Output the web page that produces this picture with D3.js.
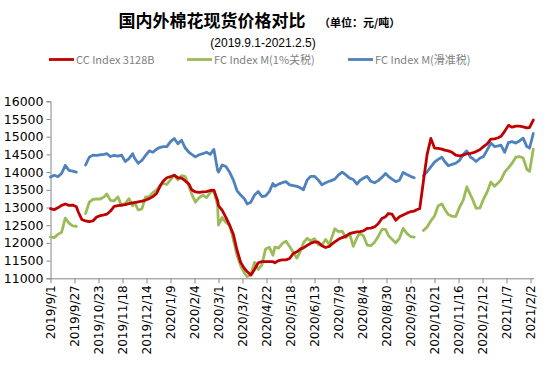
<!DOCTYPE html>
<html><head><meta charset="utf-8">
<script src="https://cdn.jsdelivr.net/npm/d3@7"></script>
<style>
body{margin:0;background:#fff;}
svg{display:block;}
</style></head>
<body><svg id="c" width="554" height="365"></svg>
<script>
// ---- data ----
const dates = [
"2019/9/1","2019/9/5","2019/9/9","2019/9/13","2019/9/17","2019/9/21","2019/9/25","2019/9/29",
"2019/10/1","2019/10/5","2019/10/9","2019/10/13","2019/10/17","2019/10/21","2019/10/25","2019/10/29",
"2019/11/1","2019/11/5","2019/11/9","2019/11/13","2019/11/17","2019/11/21","2019/11/25","2019/11/29",
"2019/12/1","2019/12/5","2019/12/9","2019/12/13","2019/12/17","2019/12/21","2019/12/25","2019/12/29",
"2020/1/1","2020/1/5","2020/1/9","2020/1/13","2020/1/17","2020/1/21","2020/1/25","2020/1/29",
"2020/2/1","2020/2/5","2020/2/9","2020/2/13","2020/2/17","2020/2/21","2020/2/25","2020/2/29",
"2020/3/1","2020/3/5","2020/3/9","2020/3/13","2020/3/17","2020/3/21","2020/3/25","2020/3/29",
"2020/4/1","2020/4/5","2020/4/9","2020/4/13","2020/4/17","2020/4/21","2020/4/25","2020/4/29",
"2020/5/1","2020/5/5","2020/5/9","2020/5/13","2020/5/17","2020/5/21","2020/5/25","2020/5/29",
"2020/6/1","2020/6/5","2020/6/9","2020/6/13","2020/6/17","2020/6/21","2020/6/25","2020/6/29",
"2020/7/1","2020/7/5","2020/7/9","2020/7/13","2020/7/17","2020/7/21","2020/7/25","2020/7/29",
"2020/8/1","2020/8/5","2020/8/9","2020/8/13","2020/8/17","2020/8/21","2020/8/25","2020/8/29",
"2020/9/1","2020/9/5","2020/9/9","2020/9/13","2020/9/17","2020/9/21","2020/9/25","2020/9/29",
"2020/10/1","2020/10/5","2020/10/9","2020/10/13","2020/10/17","2020/10/21","2020/10/25","2020/10/29",
"2020/11/1","2020/11/5","2020/11/9","2020/11/13","2020/11/17","2020/11/21","2020/11/25","2020/11/29",
"2020/12/1","2020/12/5","2020/12/9","2020/12/13","2020/12/17","2020/12/21","2020/12/25","2020/12/29",
"2021/1/1","2021/1/5","2021/1/9","2021/1/13","2021/1/17","2021/1/21","2021/1/25","2021/1/29",
"2021/2/1","2021/2/5"
];

const ccIndex = [
12970,12940,12990,13060,13100,13060,13070,13020,
12880,12660,12620,12600,12620,12730,12770,12790,
12810,12900,13030,13050,13070,13080,13110,13130,
13140,13160,13180,13210,13250,13310,13400,13620,
13740,13840,13870,13910,13840,13830,13750,13660,
13500,13440,13430,13440,13450,13480,13490,13200,
13050,12920,12720,12500,12250,11800,11450,11280,
11190,11090,11250,11440,11470,11470,11470,11470,
11440,11500,11520,11520,11560,11700,11750,11830,
11860,11930,11990,12030,12020,11920,11870,11900,
11950,12030,12100,12150,12190,12260,12290,12310,
12320,12340,12410,12420,12450,12540,12690,12740,
12830,12810,12640,12740,12790,12840,12880,12900,
12930,12970,13750,14500,14950,14680,14670,14650,
14620,14600,14560,14480,14460,14480,14520,14530,
14540,14580,14630,14720,14800,14930,14940,14970,
15010,15150,15320,15270,15300,15300,15280,15250,
15260,15470
];

const fcTariff1 = [
12170,12150,12240,12300,12700,12560,12480,12470,
null,null,12830,13150,13230,13240,13240,13300,
13380,13200,13190,13300,13050,13120,13250,13050,
13150,12930,12960,13300,13310,13420,13500,13630,
13680,13650,13780,13920,13780,13900,13870,13600,
13380,13150,13280,13350,13280,13420,13480,13050,
12500,12720,12580,12500,12100,11650,11350,11150,
11050,11100,11450,11250,11380,11830,11880,11650,
11880,11850,11980,12050,11900,11730,11570,11780,
12000,12130,12060,12120,11950,11930,12100,11950,
12100,12400,12320,12330,12150,12260,11900,12150,
12270,12200,11940,11920,12020,12180,12380,12380,
12210,12100,12000,12130,12410,12270,12180,12160,
null,null,12350,12450,12620,12760,13050,13100,
12950,12800,12750,12750,13000,13200,13580,13350,
13250,12980,12980,13230,13440,13720,13600,13700,
13780,14000,14120,14250,14420,14440,14400,14080,
14020,14650
];

const fcSliding = [
13860,13910,13870,13960,14190,14050,14030,14000,
null,null,14200,14420,14480,14470,14490,14500,
14520,14440,14470,14450,14480,14300,14380,14520,
14400,14250,14330,14470,14600,14560,14650,14700,
14720,14720,14860,14950,14800,14900,14680,14560,
14500,14430,14490,14520,14560,14500,14640,14050,
14000,14200,14160,14000,13780,13480,13350,13250,
13100,13150,13350,13450,13310,13330,13450,13680,
13600,13660,13700,13730,13640,13620,13600,13550,
13500,13780,13880,13880,13780,13640,13700,13740,
13760,13800,13920,14000,13920,13830,13790,13660,
13760,13830,13880,13740,13700,13760,13850,13960,
13880,13800,13730,13770,13990,13930,13880,13840,
null,null,13900,14010,14150,14280,14360,14420,
14300,14180,14220,14250,14330,14500,14600,14420,
14390,14300,14390,14440,14620,14820,14720,14740,
14760,14560,14830,14860,14820,14880,14960,14720,
14680,15090
];

const seriesNames = ["CC Index 3128B","FC Index M(1%关税)","FC Index M(滑准税)"];
const seriesColors = ["#C00000","#9BBB59","#4F81BD"];
const yTicks = [11000,11500,12000,12500,13000,13500,14000,14500,15000,15500,16000];
const xTickLabels = ["2019/9/1","2019/9/27","2019/10/23","2019/11/18","2019/12/14","2020/1/9","2020/2/4","2020/3/1","2020/3/27","2020/4/22","2020/5/18","2020/6/13","2020/7/9","2020/8/4","2020/8/30","2020/9/25","2020/10/21","2020/11/16","2020/12/12","2021/1/7","2021/2/2"];
const xStart = "2019/9/1", xEnd = "2021/2/5";

// ---- drawing ----
const parse = d3.timeParse("%Y/%m/%d");
const svg = d3.select("#c");
const L = 50.5, R = 533.3, T = 101.3, B = 278.3;
const x = d3.scaleTime().domain([parse(xStart), parse(xEnd)]).range([L, R]);
const y = d3.scaleLinear().domain([11000, 16000]).range([B, T]);
const axisColor = "#868686";
const labelFont = "'DejaVu Sans', Verdana, sans-serif";

// y axis
const yAxis = svg.append("g").attr("transform", `translate(${L},0)`)
  .call(d3.axisLeft(y).tickValues(yTicks).tickSize(4).tickPadding(3).tickFormat(d3.format("d")));
yAxis.select(".domain").attr("stroke", axisColor);
yAxis.selectAll(".tick line").attr("stroke", axisColor);
yAxis.selectAll("text").style("font-family", labelFont).style("font-size", "12.5px").attr("fill", "#000");

// x axis
const xAxis = svg.append("g").attr("transform", `translate(0,${B})`)
  .call(d3.axisBottom(x).tickValues(xTickLabels.map(parse)).tickSize(5)
    .tickFormat(d3.timeFormat("%Y/%-m/%-d")));
xAxis.select(".domain").attr("stroke", axisColor).attr("d", `M${L},0.5H${R+1}`);
xAxis.selectAll(".tick line").attr("stroke", axisColor);
xAxis.selectAll("text")
  .style("font-family", labelFont).style("font-size", "12px").attr("fill", "#000")
  .attr("transform", "rotate(-90)")
  .attr("text-anchor", "end").attr("dy", "0.35em").attr("x", -7).attr("y", 0);

// lines
const allSeries = [ccIndex, fcTariff1, fcSliding];
const line = d3.line()
  .defined(d => d.v != null)
  .x(d => x(d.date)).y(d => y(d.v));
const drawOrder = [2, 1, 0];
drawOrder.forEach(i => {
  const data = dates.map((s, k) => ({date: parse(s), v: allSeries[i][k]}));
  svg.append("path").datum(data)
    .attr("d", line).attr("fill", "none")
    .attr("stroke", seriesColors[i]).attr("stroke-width", 2.8)
    .attr("stroke-linejoin", "round").attr("stroke-linecap", "round");
});

// title
svg.append("text").attr("x", 212).attr("y", 27).attr("text-anchor", "middle")
  .style("font-family", "'Noto Sans CJK SC', sans-serif").attr("font-weight", "bold")
  .style("font-size", "17px").attr("fill", "#000").text("国内外棉花现货价格对比");
svg.append("text").attr("x", 319).attr("y", 27)
  .style("font-family", "'Noto Sans CJK SC', sans-serif").attr("font-weight", "bold")
  .style("font-size", "11px").attr("fill", "#000").text("（单位：元/吨）");
svg.append("text").attr("x", 263).attr("y", 47).attr("text-anchor", "middle")
  .style("font-family", "'Liberation Sans', Arial, sans-serif")
  .style("font-size", "12px").attr("fill", "#000").text("(2019.9.1-2021.2.5)");

// legend
const legendX = [49, 187, 348];
seriesNames.forEach((n, i) => {
  const g = svg.append("g").attr("transform", `translate(${legendX[i]},59.5)`);
  g.append("line").attr("x1", 0).attr("x2", 25).attr("y1", 0).attr("y2", 0)
    .attr("stroke", seriesColors[i]).attr("stroke-width", 2.8);
  g.append("text").attr("x", 27).attr("y", 4)
    .style("font-family", "'Noto Sans CJK SC', sans-serif")
    .style("font-size", "11px").attr("fill", "#7f7f7f").text(n);
});
</script></body></html>
